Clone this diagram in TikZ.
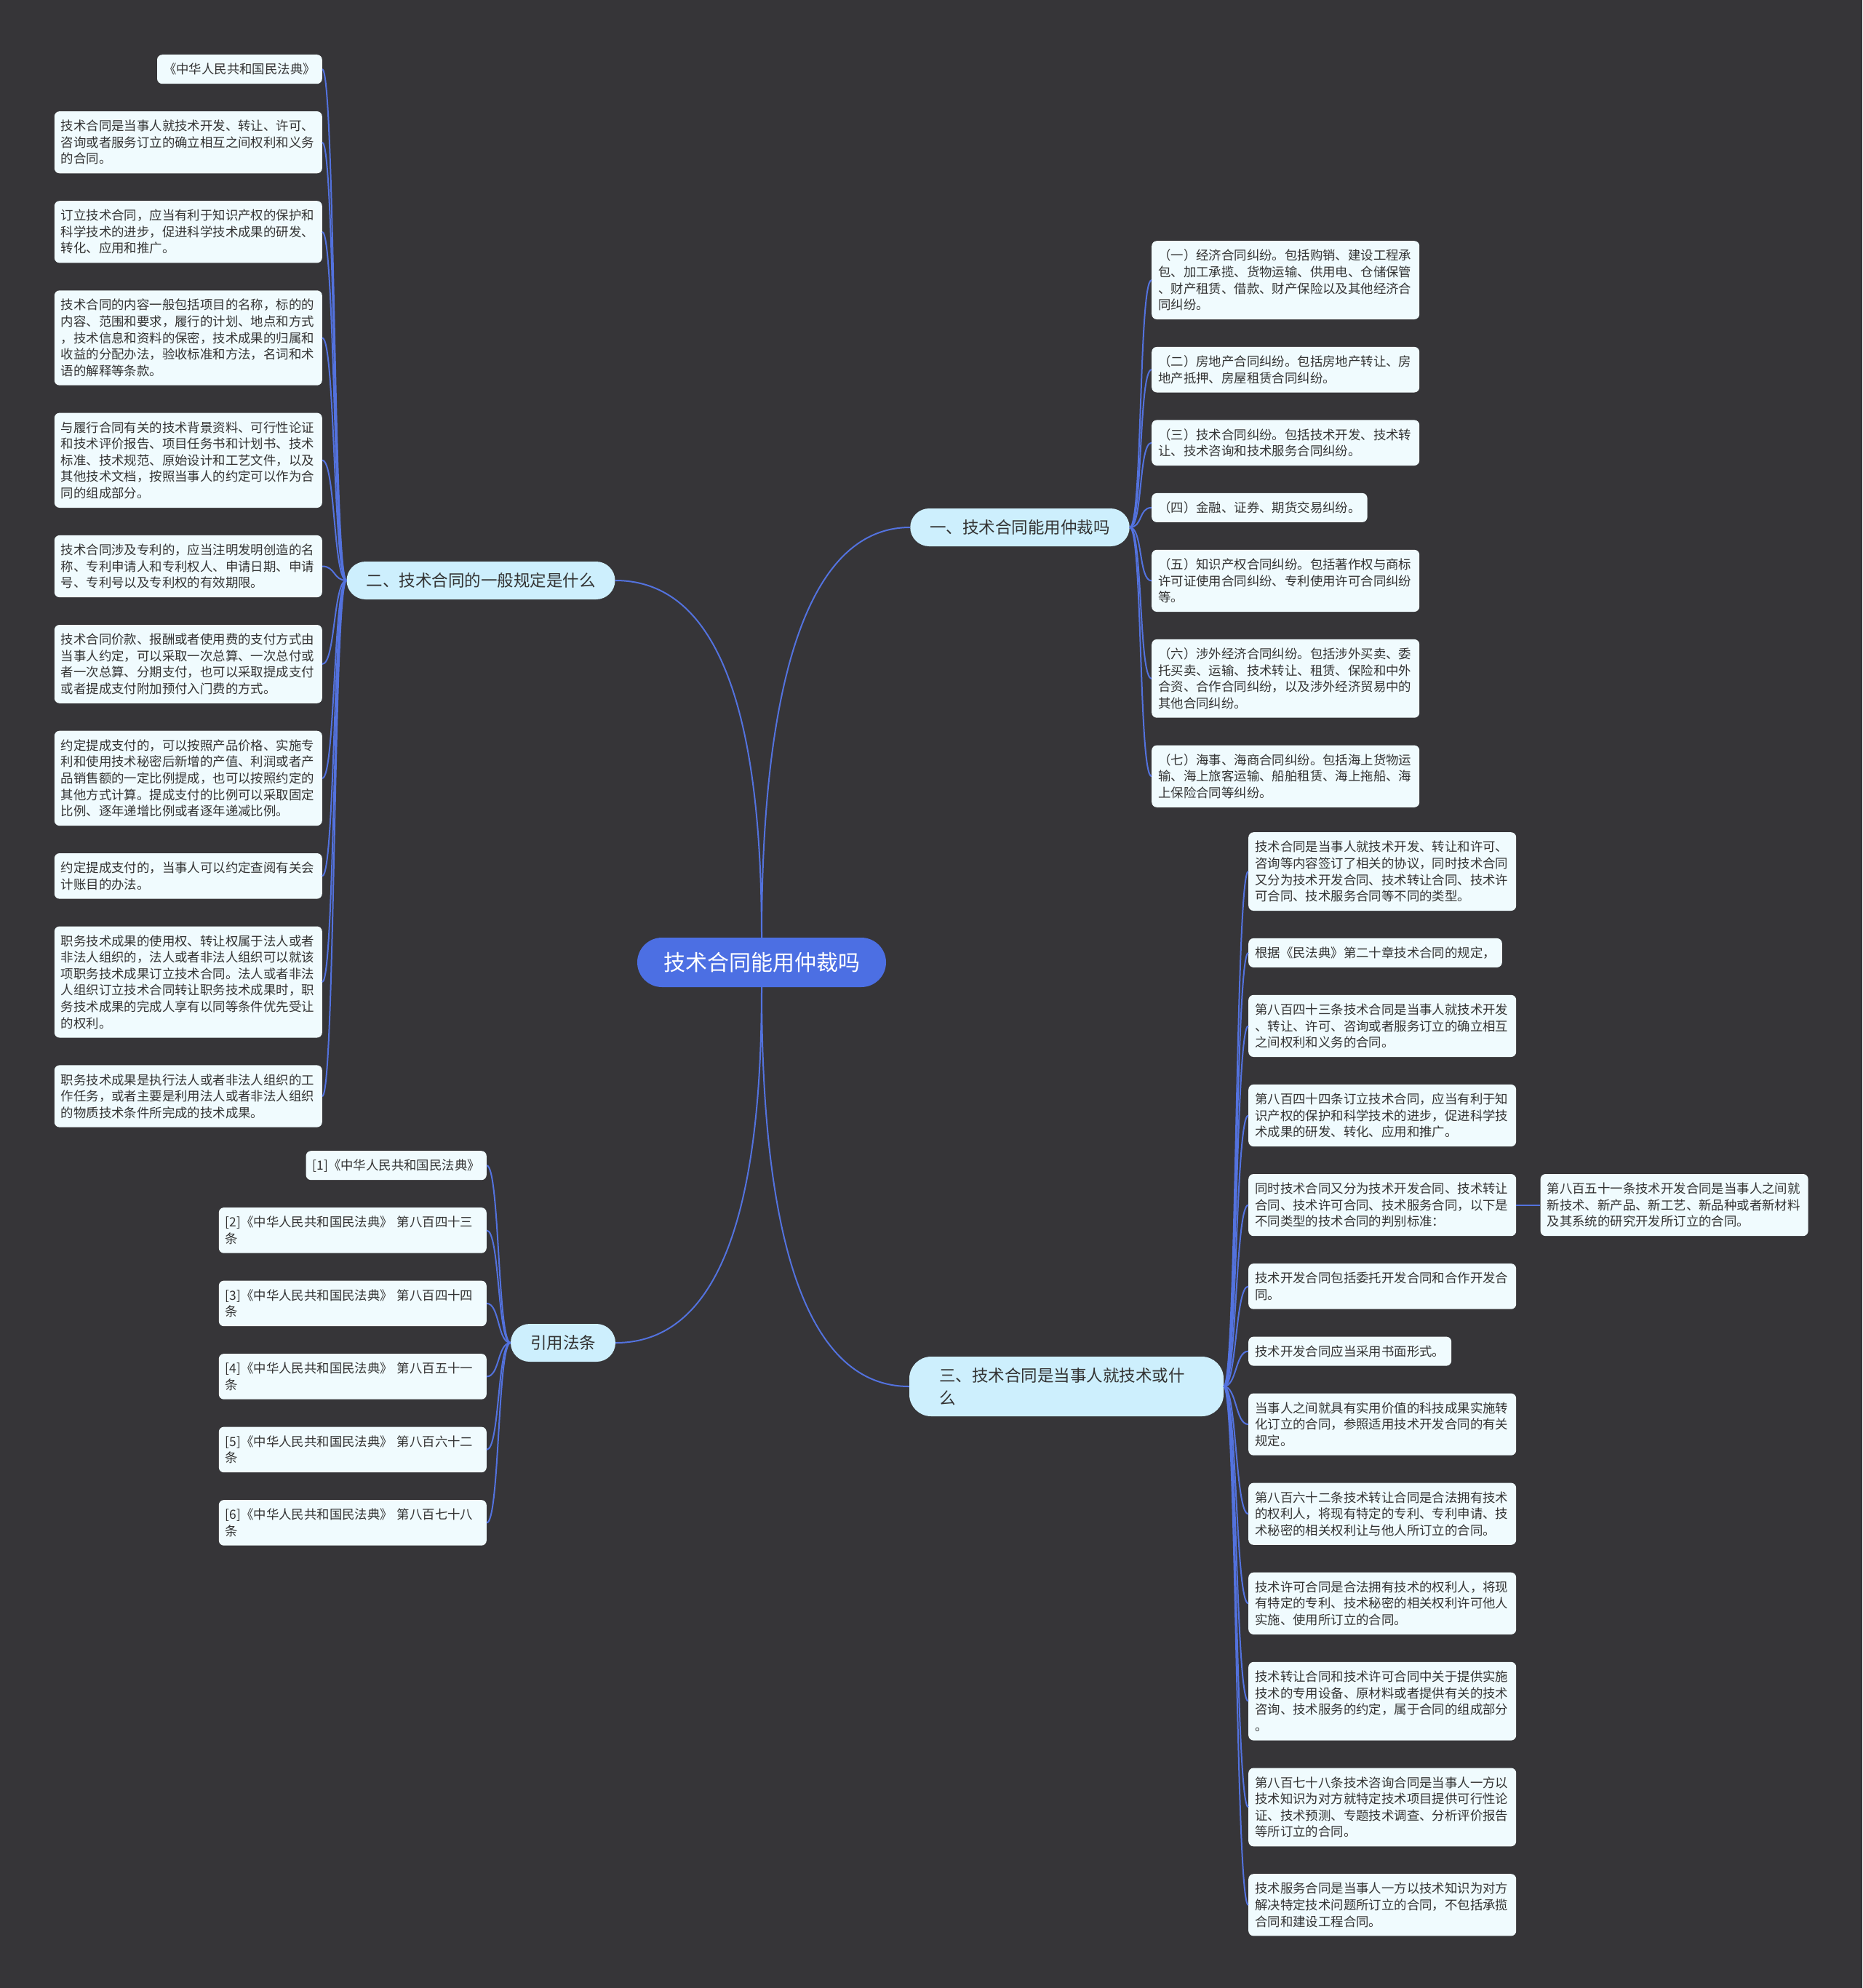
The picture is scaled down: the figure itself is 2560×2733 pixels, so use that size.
\documentclass[tikz,border=0pt]{standalone}
\usepackage{fontspec}
\setmainfont{Noto Sans CJK SC}
\usetikzlibrary{positioning}

\definecolor{bgcol}{HTML}{363538}
\definecolor{linkcol}{HTML}{5372DE}
\definecolor{rootcol}{HTML}{4C6FE3}
\definecolor{topiccol}{HTML}{CDEFFD}
\definecolor{leafcol}{HTML}{F0FBFE}
\definecolor{inkcol}{HTML}{333333}

\begin{document}
\begin{tikzpicture}[x=1pt, y=-1pt, node distance=37.5pt,
    every node/.append style={text=inkcol},
    root/.style={fill=rootcol, text=white, rounded corners=34pt, minimum height=68pt,
      inner xsep=36pt, font=\fontsize{30}{36}\selectfont},
    topic/.style={fill=topiccol, rounded corners=26pt, minimum height=52pt,
      inner xsep=27pt, font=\fontsize{22.5}{31}\selectfont},
    leaf/.style={fill=leafcol, rounded corners=7pt, minimum height=40pt,
      inner xsep=9pt, inner ysep=4pt, font=\fontsize{17.4}{22.6}\selectfont},
    para/.style={leaf, align=left, text width=350pt, minimum height=#1*22.6pt+17.4pt},
    link/.style={draw=linkcol, line width=2pt}]

  \path[use as bounding box, fill=bgcol] (0,0) rectangle (2560,2733);

  % centre and main topics
  \node[root] (root) at (1047,1323) {技术合同能用仲裁吗};
  \node[topic] (q1) at (1402,725) {一、技术合同能用仲裁吗};
  \node[topic] (q2) at (661,798) {二、技术合同的一般规定是什么};
  \node[topic] (law) at (774,1846) {引用法条};
  \node[topic, text width=350pt, align=left, inner xsep=41pt, minimum height=82pt,
    rounded corners=30pt] (q3) at (1466,1906) {三、技术合同是当事人就技术或什\\么};

  % topic one
  \node[para=4, anchor=north west] (a1) at (1583,331)
    {（一）经济合同纠纷。包括购销、建设工程承\\包、加工承揽、货物运输、供用电、仓储保管\\、财产租赁、借款、财产保险以及其他经济合\\同纠纷。};
  \node[para=2, below=of a1.south west, anchor=north west] (a2)
    {（二）房地产合同纠纷。包括房地产转让、房\\地产抵押、房屋租赁合同纠纷。};
  \node[para=2, below=of a2.south west, anchor=north west] (a3)
    {（三）技术合同纠纷。包括技术开发、技术转\\让、技术咨询和技术服务合同纠纷。};
  \node[leaf, below=of a3.south west, anchor=north west] (a4)
    {（四）金融、证券、期货交易纠纷。};
  \node[para=3, below=of a4.south west, anchor=north west] (a5)
    {（五）知识产权合同纠纷。包括著作权与商标\\许可证使用合同纠纷、专利使用许可合同纠纷\\等。};
  \node[para=4, below=of a5.south west, anchor=north west] (a6)
    {（六）涉外经济合同纠纷。包括涉外买卖、委\\托买卖、运输、技术转让、租赁、保险和中外\\合资、合作合同纠纷，以及涉外经济贸易中的\\其他合同纠纷。};
  \node[para=3, below=of a6.south west, anchor=north west] (a7)
    {（七）海事、海商合同纠纷。包括海上货物运\\输、海上旅客运输、船舶租赁、海上拖船、海\\上保险合同等纠纷。};

  % topic two
  \node[leaf, anchor=north east] (g1) at (443,75) {《中华人民共和国民法典》};
  \node[para=3, below=of g1.south east, anchor=north east] (g2)
    {技术合同是当事人就技术开发、转让、许可、\\咨询或者服务订立的确立相互之间权利和义务\\的合同。};
  \node[para=3, below=of g2.south east, anchor=north east] (g3)
    {订立技术合同，应当有利于知识产权的保护和\\科学技术的进步，促进科学技术成果的研发、\\转化、应用和推广。};
  \node[para=5, below=of g3.south east, anchor=north east] (g4)
    {技术合同的内容一般包括项目的名称，标的的\\内容、范围和要求，履行的计划、地点和方式\\，技术信息和资料的保密，技术成果的归属和\\收益的分配办法，验收标准和方法，名词和术\\语的解释等条款。};
  \node[para=5, below=of g4.south east, anchor=north east] (g5)
    {与履行合同有关的技术背景资料、可行性论证\\和技术评价报告、项目任务书和计划书、技术\\标准、技术规范、原始设计和工艺文件，以及\\其他技术文档，按照当事人的约定可以作为合\\同的组成部分。};
  \node[para=3, below=of g5.south east, anchor=north east] (g6)
    {技术合同涉及专利的，应当注明发明创造的名\\称、专利申请人和专利权人、申请日期、申请\\号、专利号以及专利权的有效期限。};
  \node[para=4, below=of g6.south east, anchor=north east] (g7)
    {技术合同价款、报酬或者使用费的支付方式由\\当事人约定，可以采取一次总算、一次总付或\\者一次总算、分期支付，也可以采取提成支付\\或者提成支付附加预付入门费的方式。};
  \node[para=5, below=of g7.south east, anchor=north east] (g8)
    {约定提成支付的，可以按照产品价格、实施专\\利和使用技术秘密后新增的产值、利润或者产\\品销售额的一定比例提成，也可以按照约定的\\其他方式计算。提成支付的比例可以采取固定\\比例、逐年递增比例或者逐年递减比例。};
  \node[para=2, below=of g8.south east, anchor=north east] (g9)
    {约定提成支付的，当事人可以约定查阅有关会\\计账目的办法。};
  \node[para=6, below=of g9.south east, anchor=north east] (g10)
    {职务技术成果的使用权、转让权属于法人或者\\非法人组织的，法人或者非法人组织可以就该\\项职务技术成果订立技术合同。法人或者非法\\人组织订立技术合同转让职务技术成果时，职\\务技术成果的完成人享有以同等条件优先受让\\的权利。};
  \node[para=3, below=of g10.south east, anchor=north east] (g11)
    {职务技术成果是执行法人或者非法人组织的工\\作任务，或者主要是利用法人或者非法人组织\\的物质技术条件所完成的技术成果。};

  % cited articles
  \node[leaf, anchor=north east] (f1) at (669,1582) {[1]《中华人民共和国民法典》};
  \node[para=2, below=of f1.south east, anchor=north east] (f2)
    {[2]《中华人民共和国民法典》~第八百四十三\\条};
  \node[para=2, below=of f2.south east, anchor=north east] (f3)
    {[3]《中华人民共和国民法典》~第八百四十四\\条};
  \node[para=2, below=of f3.south east, anchor=north east] (f4)
    {[4]《中华人民共和国民法典》~第八百五十一\\条};
  \node[para=2, below=of f4.south east, anchor=north east] (f5)
    {[5]《中华人民共和国民法典》~第八百六十二\\条};
  \node[para=2, below=of f5.south east, anchor=north east] (f6)
    {[6]《中华人民共和国民法典》~第八百七十八\\条};

  % topic three
  \node[para=4, anchor=north west] (c1) at (1716,1144)
    {技术合同是当事人就技术开发、转让和许可、\\咨询等内容签订了相关的协议，同时技术合同\\又分为技术开发合同、技术转让合同、技术许\\可合同、技术服务合同等不同的类型。};
  \node[leaf, below=of c1.south west, anchor=north west] (c2)
    {根据《民法典》第二十章技术合同的规定，};
  \node[para=3, below=of c2.south west, anchor=north west] (c3)
    {第八百四十三条技术合同是当事人就技术开发\\、转让、许可、咨询或者服务订立的确立相互\\之间权利和义务的合同。};
  \node[para=3, below=of c3.south west, anchor=north west] (c4)
    {第八百四十四条订立技术合同，应当有利于知\\识产权的保护和科学技术的进步，促进科学技\\术成果的研发、转化、应用和推广。};
  \node[para=3, below=of c4.south west, anchor=north west] (c5)
    {同时技术合同又分为技术开发合同、技术转让\\合同、技术许可合同、技术服务合同，以下是\\不同类型的技术合同的判别标准：};
  \node[para=2, below=of c5.south west, anchor=north west] (c6)
    {技术开发合同包括委托开发合同和合作开发合\\同。};
  \node[leaf, below=of c6.south west, anchor=north west] (c7)
    {技术开发合同应当采用书面形式。};
  \node[para=3, below=of c7.south west, anchor=north west] (c8)
    {当事人之间就具有实用价值的科技成果实施转\\化订立的合同，参照适用技术开发合同的有关\\规定。};
  \node[para=3, below=of c8.south west, anchor=north west] (c9)
    {第八百六十二条技术转让合同是合法拥有技术\\的权利人，将现有特定的专利、专利申请、技\\术秘密的相关权利让与他人所订立的合同。};
  \node[para=3, below=of c9.south west, anchor=north west] (c10)
    {技术许可合同是合法拥有技术的权利人，将现\\有特定的专利、技术秘密的相关权利许可他人\\实施、使用所订立的合同。};
  \node[para=4, below=of c10.south west, anchor=north west] (c11)
    {技术转让合同和技术许可合同中关于提供实施\\技术的专用设备、原材料或者提供有关的技术\\咨询、技术服务的约定，属于合同的组成部分\\。};
  \node[para=4, below=of c11.south west, anchor=north west] (c12)
    {第八百七十八条技术咨询合同是当事人一方以\\技术知识为对方就特定技术项目提供可行性论\\证、技术预测、专题技术调查、分析评价报告\\等所订立的合同。};
  \node[para=3, below=of c12.south west, anchor=north west] (c13)
    {技术服务合同是当事人一方以技术知识为对方\\解决特定技术问题所订立的合同，不包括承揽\\合同和建设工程合同。};
  \node[para=3, right=33pt of c5] (c51)
    {第八百五十一条技术开发合同是当事人之间就\\新技术、新产品、新工艺、新品种或者新材料\\及其系统的研究开发所订立的合同。};

  % connectors
  \draw[link] (root.north) .. controls +(0,-290) and +(-160,0) .. (q1.west);
  \draw[link] (root.north) .. controls +(0,-260) and +(160,0) .. (q2.east);
  \draw[link] (root.south) .. controls +(0,290) and +(-160,0) .. (q3.west);
  \draw[link] (root.south) .. controls +(0,260) and +(160,0) .. (law.east);
  \foreach \i in {1,...,7}
    \draw[link] (q1.east) .. controls +(18,0) and +(-18,0) .. (a\i.west);
  \foreach \i in {1,...,11}
    \draw[link] (q2.west) .. controls +(-18,0) and +(18,0) .. (g\i.east);
  \foreach \i in {1,...,6}
    \draw[link] (law.west) .. controls +(-18,0) and +(18,0) .. (f\i.east);
  \foreach \i in {1,...,13}
    \draw[link] (q3.east) .. controls +(18,0) and +(-18,0) .. (c\i.west);
  \draw[link] (c5) -- (c51);
\end{tikzpicture}
\end{document}
